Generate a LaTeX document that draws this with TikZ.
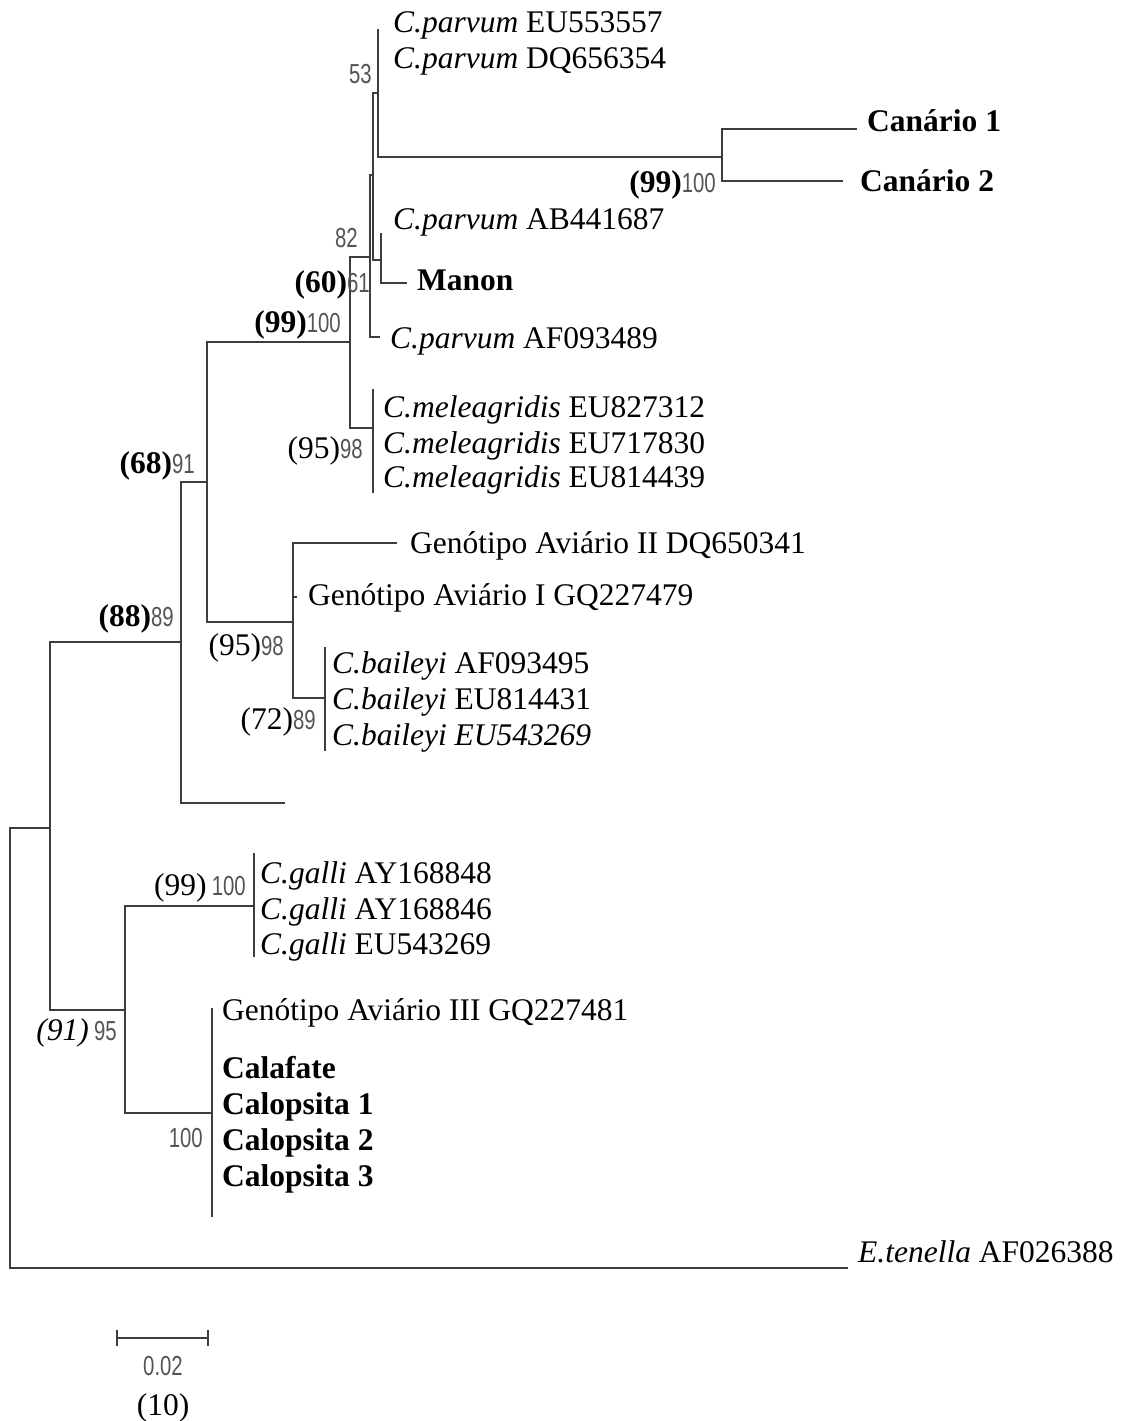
\documentclass[tikz,border=0pt]{standalone}
\usepackage{fontspec}
\setmainfont{Liberation Serif}
\newfontfamily\numsans[FakeStretch=0.74]{Liberation Sans}
\definecolor{numgray}{gray}{0.33}
\definecolor{linegray}{gray}{0.24}
\newcommand{\tipsize}{\fontsize{31.5}{36}\selectfont}
\newcommand{\bsnum}[1]{{\numsans\fontsize{27.5}{31}\selectfont\color{numgray}#1}}
\begin{document}
\begin{tikzpicture}[x=1pt,y=-1pt,
  br/.style={line width=2.5pt, draw=linegray},
  tip/.style={anchor=base west, inner sep=0pt, font=\tipsize},
  boot/.style={anchor=base east, inner sep=0pt, font=\tipsize},
  mid/.style={anchor=base, inner sep=0pt, font=\tipsize}]
\useasboundingbox (0,0) rectangle (1138,1421);

% internal nodes (x of node, y of link to parent)
\coordinate (root) at (10,1048);
\coordinate (A) at (50,828);
\coordinate (B) at (181,642);
\coordinate (D) at (207,482);
\coordinate (P) at (350,342);
\coordinate (N61) at (370,257);
\coordinate (N82) at (373,175);
\coordinate (N53) at (378,93);
\coordinate (Can) at (722,157);
\coordinate (NM) at (381,260);
\coordinate (Mel) at (373,428);
\coordinate (Q) at (293,622);
\coordinate (Bai) at (325,698);
\coordinate (G) at (125,1010);
\coordinate (Gal) at (254,906);
\coordinate (Cal) at (212,1113);

% tip ends
\coordinate (tEt) at (848,1268);
\coordinate (tEmpty) at (285,803);
\coordinate (tPa1) at (378,29);
\coordinate (tPa2) at (378,58);
\coordinate (tCa1) at (857,129);
\coordinate (tCa2) at (843,181);
\coordinate (tPa3) at (381,233);
\coordinate (tMan) at (407,283);
\coordinate (tPa4) at (380,337);
\coordinate (tMe1) at (373,389);
\coordinate (tMe3) at (373,493);
\coordinate (tGII) at (397,543);
\coordinate (tGI) at (297,597);
\coordinate (tBa1) at (325,647);
\coordinate (tBa3) at (325,751);
\coordinate (tGa1) at (254,853);
\coordinate (tGa3) at (254,957);
\coordinate (tCl1) at (212,1008);
\coordinate (tCl5) at (212,1217);

% branches
\draw[br] (root) |- (A);
\draw[br] (root) |- (tEt);
\draw[br] (A) |- (B);
\draw[br] (A) |- (G);
\draw[br] (B) |- (D);
\draw[br] (B) |- (tEmpty);
\draw[br] (D) |- (P);
\draw[br] (D) |- (Q);
\draw[br] (P) |- (N61);
\draw[br] (P) |- (Mel);
\draw[br] (N61) |- (N82);
\draw[br] (N61) |- (tPa4);
\draw[br] (N82) |- (N53);
\draw[br] (N82) |- (NM);
\draw[br] (N53) |- (tPa1);
\draw[br] (N53) |- (tPa2);
\draw[br] (N53) |- (Can);
\draw[br] (Can) |- (tCa1);
\draw[br] (Can) |- (tCa2);
\draw[br] (NM) |- (tPa3);
\draw[br] (NM) |- (tMan);
\draw[br] (Mel) |- (tMe1);
\draw[br] (Mel) |- (tMe3);
\draw[br] (Q) |- (tGII);
\draw[br] (Q) |- (tGI);
\draw[br] (Q) |- (Bai);
\draw[br] (Bai) |- (tBa1);
\draw[br] (Bai) |- (tBa3);
\draw[br] (G) |- (Gal);
\draw[br] (G) |- (Cal);
\draw[br] (Gal) |- (tGa1);
\draw[br] (Gal) |- (tGa3);
\draw[br] (Cal) |- (tCl1);
\draw[br] (Cal) |- (tCl5);

% tip labels
\node[tip] (lPa1) at (393,33) {\textit{C.parvum} EU553557};
\node[tip] (lPa2) at (393,69) {\textit{C.parvum} DQ656354};
\node[tip] (lCa1) at (867,131) {\textbf{Canário 1}};
\node[tip] (lCa2) at (860,191) {\textbf{Canário 2}};
\node[tip] (lPa3) at (393,229) {\textit{C.parvum} AB441687};
\node[tip] (lMan) at (417,290) {\textbf{Manon}};
\node[tip] (lPa4) at (390,348) {\textit{C.parvum} AF093489};
\node[tip] (lMe1) at (383,417) {\textit{C.meleagridis} EU827312};
\node[tip] (lMe2) at (383,453) {\textit{C.meleagridis} EU717830};
\node[tip] (lMe3) at (383,487) {\textit{C.meleagridis} EU814439};
\node[tip] (lGII) at (410,553) {Genótipo Aviário II DQ650341};
\node[tip] (lGI) at (308,605) {Genótipo Aviário I GQ227479};
\node[tip] (lBa1) at (332,673) {\textit{C.baileyi} AF093495};
\node[tip] (lBa2) at (332,709) {\textit{C.baileyi} EU814431};
\node[tip] (lBa3) at (332,745) {\textit{C.baileyi EU543269}};
\node[tip] (lGa1) at (260,883) {\textit{C.galli} AY168848};
\node[tip] (lGa2) at (260,919) {\textit{C.galli} AY168846};
\node[tip] (lGa3) at (260,954) {\textit{C.galli} EU543269};
\node[tip] (lCl1) at (222,1020) {Genótipo Aviário III GQ227481};
\node[tip] (lCl2) at (222,1078) {\textbf{Calafate}};
\node[tip] (lCl3) at (222,1114) {\textbf{Calopsita 1}};
\node[tip] (lCl4) at (222,1150) {\textbf{Calopsita 2}};
\node[tip] (lCl5) at (222,1186) {\textbf{Calopsita 3}};
\node[tip] (lEt) at (858,1262) {\textit{E.tenella} AF026388};

% bootstrap labels
\node[boot] (b53) at (372,83) {\bsnum{53}};
\node[boot] (bCan) at (716,192) {\textbf{(99)}\bsnum{100}};
\node[boot] (b82) at (358,247) {\bsnum{82}};
\node[boot] (b61) at (370,292) {\textbf{(60)}\bsnum{61}};
\node[boot] (bP) at (341,332) {\textbf{(99)}\bsnum{100}};
\node[boot] (bMel) at (363,458) {(95)\bsnum{98}};
\node[boot] (bD) at (195,473) {\textbf{(68)}\bsnum{91}};
\node[boot] (bB) at (174,626) {\textbf{(88)}\bsnum{89}};
\node[boot] (bQ) at (284,655) {(95)\bsnum{98}};
\node[boot] (bBai) at (316,729) {(72)\bsnum{89}};
\node[boot] (bGal) at (246,895) {(99)\,\bsnum{100}};
\node[boot] (bG) at (117,1040) {\textit{(91)}\,\bsnum{95}};
\node[boot] (bCal) at (203,1147) {\bsnum{100}};

% scale bar
\coordinate (sbL) at (117,1338);
\coordinate (sbR) at (208,1338);
\draw[br] (sbL) -- (sbR);
\draw[br] ([yshift=-8pt]sbL) -- ([yshift=8pt]sbL);
\draw[br] ([yshift=-8pt]sbR) -- ([yshift=8pt]sbR);
\node[mid] (sbT) at (163,1375) {\bsnum{0.02}};
\node[mid] (sbN) at (163,1415) {(10)};
\end{tikzpicture}
\end{document}
